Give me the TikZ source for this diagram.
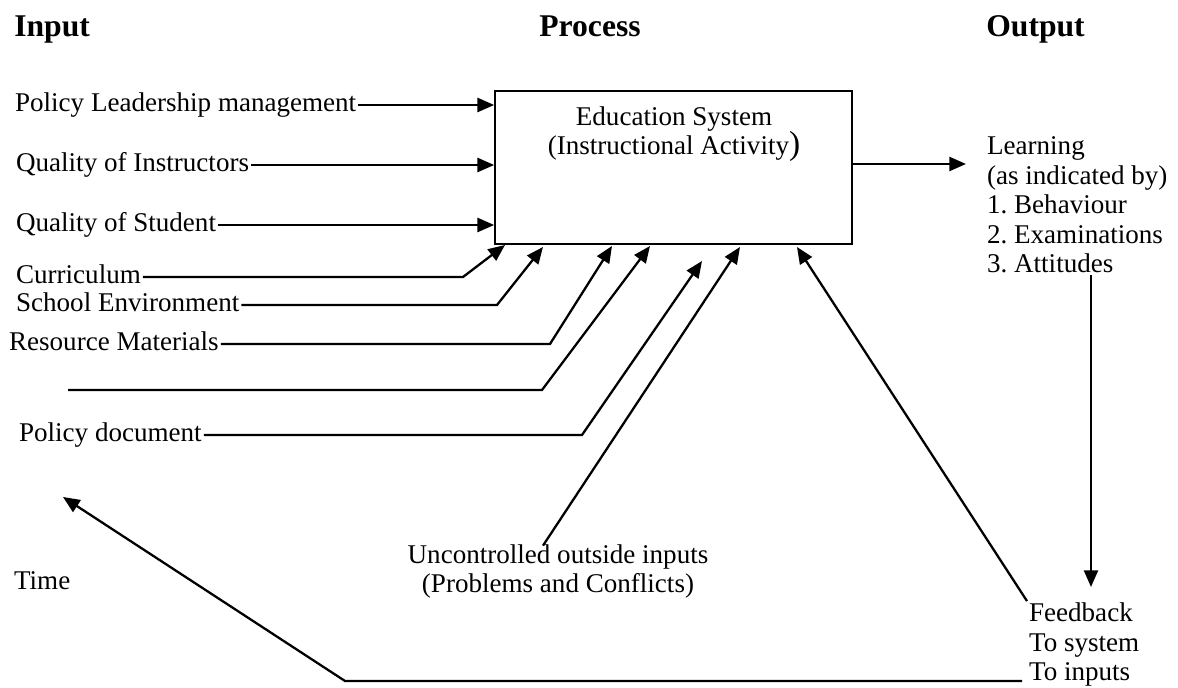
\documentclass[tikz,border=0pt]{standalone}
\usepackage{fontspec}
\setmainfont{Liberation Serif}
\usetikzlibrary{arrows.meta,calc}
\newcommand{\bodyfont}{\fontsize{15.4}{16.8}\selectfont\frenchspacing}
\tikzstyle{flow} = [line width=1.3pt,-{Triangle[length=9.5pt,width=8pt]}]
\tikzstyle{lbl} = [inner sep=1pt,font=\bodyfont,text height=10.4pt,text depth=3.4pt]
\tikzstyle{multi} = [inner sep=1pt,font=\bodyfont]
\tikzstyle{head} = [inner sep=0pt,font=\fontsize{18}{20}\selectfont\bfseries]

\begin{document}
\begin{tikzpicture}[x=0.02cm,y=-0.02cm]
\useasboundingbox (0,0) rectangle (1178,688);

% headings
\node[head,anchor=base west] (hin) at (14,37) {Input};
\node[head,anchor=base] (hpro) at (590,37) {Process};
\node[head,anchor=base west] (hout) at (986,37) {Output};

% the system
\node[draw,line width=1pt,minimum width=7.14cm,minimum height=3.06cm,inner sep=0pt] (sys) at (673.5,167.5) {};
\node[multi,align=center,anchor=base] (systxt) at (674,155) {Education System\\(Instructional Activity{\fontsize{19}{19}\selectfont )}};

% straight inputs
\node[lbl,anchor=west] (pol) at (13,105) {Policy Leadership management};
\node[lbl,anchor=west] (ins) at (14,165) {Quality of Instructors};
\node[lbl,anchor=west] (stu) at (14,225) {Quality of Student};
\foreach \n in {pol,ins,stu}
  \draw[flow] (\n.east) -- (\n.east -| sys.west);

% bent inputs
\foreach \n/\lab/\x/\y/\bx/\tx/\ty in {cur/Curriculum/14/277/463/505/245,
  sch/School Environment/14/305/497/543/247,
  res/Resource Materials/7/344/550/612/246,
  doc/Policy document/17/435/582/702/261}
{
\node[lbl,anchor=west] (\n) at (\x,\y) {\lab};
\coordinate (\n-b) at (\bx,\y);
\coordinate (\n-t) at (\tx,\ty);
\draw[flow] (\n.east) -- (\n-b) -- (\n-t);
}
\coordinate (bl-a) at (68,390);
\coordinate (bl-b) at (542,390);
\coordinate (bl-t) at (650,246);
\draw[flow] (bl-a) -- (bl-b) -- (bl-t);

% outside inputs
\node[multi,align=center,anchor=base] (unc) at (558,593) {Uncontrolled outside inputs\\(Problems and Conflicts)};
\coordinate (unc-t) at (740,247);
\draw[flow] ($(unc.north)+(-15,3)$) -- (unc-t);

% output
\coordinate (out-t) at (966,164);
\draw[flow] (sys.east |- out-t) -- (out-t);
\node[multi,align=left,anchor=base west] (lrn) at (985,273) {Learning\\(as indicated by)\\1. Behaviour\\2. Examinations\\3. Attitudes};

% feedback
\node[multi,align=left,anchor=base west] (fb) at (1027,681) {Feedback\\To system\\To inputs};
\coordinate (fb-t) at (1091,587);
\draw[flow] (lrn.south -| fb-t) -- (fb-t);
\coordinate (sys-f) at (797,247);
\draw[flow] (fb.north west) -- (sys-f);
\coordinate (fb-l) at (1022,681);
\coordinate (tm-b) at (345,681);
\coordinate (tm-t) at (63,497);
\draw[flow] (fb-l) -- (tm-b) -- (tm-t);
\node[lbl,anchor=west] (time) at (12,583) {Time};
\end{tikzpicture}
\end{document}
